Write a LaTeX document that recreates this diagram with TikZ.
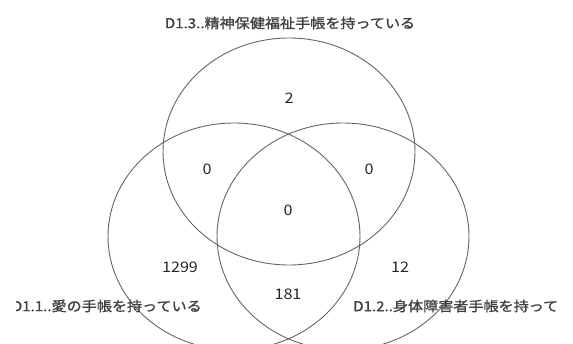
\documentclass[tikz,border=0pt]{standalone}
\usepackage{fontspec}
\setmainfont{Noto Sans CJK JP}
\newfontfamily\heavyfont[FakeBold=1.2]{Noto Sans CJK JP}
\usetikzlibrary{shapes.geometric}
\tikzset{
  setring/.style={draw=black!60, line width=0.9pt, ellipse, inner sep=0pt,
    minimum width=252pt, minimum height=227pt},
  numlbl/.style={text=black!85, inner sep=0pt, xscale=1.11,
    font=\fontsize{14.6}{17}\selectfont},
  setlbl/.style={text=black!75, inner sep=0pt, xscale=1.11,
    font=\fontsize{13.6}{16}\selectfont\heavyfont},
}
\begin{document}
\begin{tikzpicture}[x=1pt,y=-1pt]
\useasboundingbox (0,0) rectangle (573,344);
\clip (0,0) rectangle (573,344);
\node[setring] (top) at (289,151.5) {};
\node[setring] (left) at (234,236.5) {};
\node[setring] (right) at (343,236.5) {};
\node[setlbl] (ttop) at (290,23) {D1.3..精神保健福祉手帳を持っている};
\begin{scope}
\clip (16,280) rectangle (300,330);
\node[setlbl, anchor=east] (tleft) at (202,306) {D1.1..愛の手帳を持っている};
\end{scope}
\node[setlbl, anchor=west] (tright) at (353,306) {D1.2..身体障害者手帳を持って};
\node[numlbl] (n3) at (289,98) {2};
\node[numlbl] (n13) at (207,169) {0};
\node[numlbl] (n23) at (369,169) {0};
\node[numlbl] (n123) at (288,210) {0};
\node[numlbl] (n1) at (180,267) {1299};
\node[numlbl] (n2) at (400,267) {12};
\node[numlbl] (n12) at (288,294) {181};
\end{tikzpicture}
\end{document}
